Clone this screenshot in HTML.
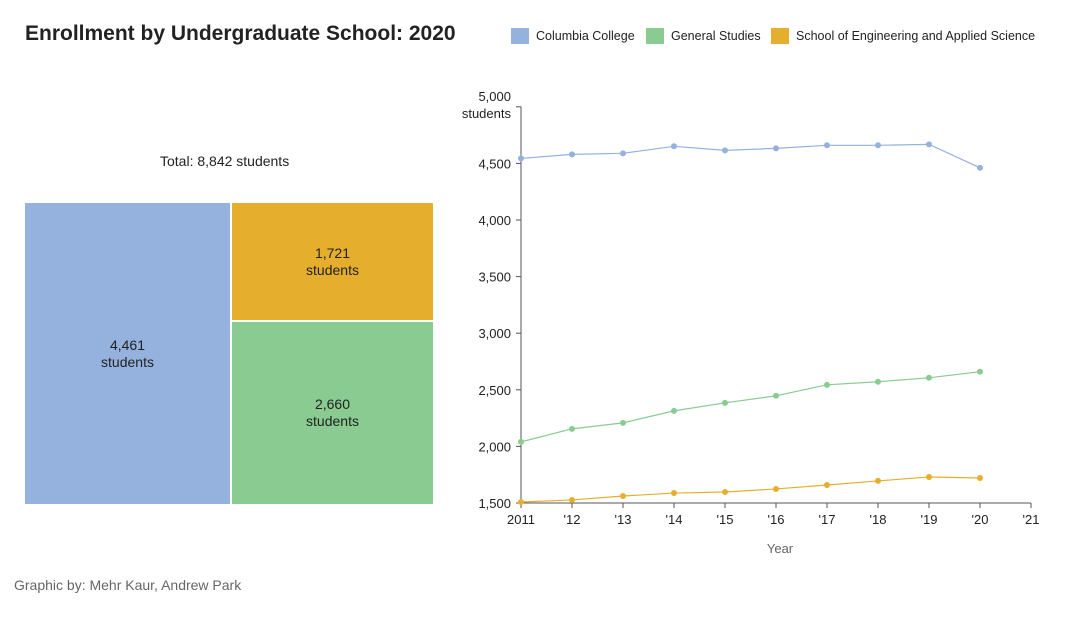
<!DOCTYPE html>
<html><head><meta charset="utf-8">
<style>
body{margin:0;width:1080px;height:630px;background:#fff;font-family:"Liberation Sans",sans-serif;color:#222;overflow:hidden;position:relative}
.title{position:absolute;left:25px;top:22px;font-size:21px;font-weight:bold}
.legend{position:absolute;top:28px;font-size:12.5px;display:flex;align-items:center}
.sw{width:18px;height:16px;display:inline-block;margin-right:7px}
.credit{position:absolute;left:14px;top:577px;font-size:14px;color:#666}
.cell{position:absolute;display:flex;align-items:center;justify-content:center;text-align:center;font-size:14px;line-height:17px;color:#222}
</style></head><body>
<div class="title">Enrollment by Undergraduate School: 2020</div>
<div class="legend" style="left:511px"><span class="sw" style="background:#95b1de"></span>Columbia College</div>
<div class="legend" style="left:646px"><span class="sw" style="background:#89cb91"></span>General Studies</div>
<div class="legend" style="left:771px"><span class="sw" style="background:#e5af2d"></span>School of Engineering and Applied Science</div>
<div style="position:absolute;left:160px;top:153px;font-size:14px">Total: 8,842 students</div>
<div class="cell" style="left:25px;top:203px;width:205px;height:301px;background:#95b1de">4,461<br>students</div>
<div class="cell" style="left:232px;top:203px;width:201px;height:117px;background:#e5af2d">1,721<br>students</div>
<div class="cell" style="left:232px;top:322px;width:201px;height:182px;background:#89cb91">2,660<br>students</div>
<div class="credit">Graphic by: Mehr Kaur, Andrew Park</div>
<svg id="chart" width="1080" height="630" style="position:absolute;left:0;top:0"></svg>
<script>
const years=[2011,2012,2013,2014,2015,2016,2017,2018,2019,2020];
const xTicks=[2011,2012,2013,2014,2015,2016,2017,2018,2019,2020,2021];
const xTickLabels=["2011","'12","'13","'14","'15","'16","'17","'18","'19","'20","'21"];
const yTicks=[1500,2000,2500,3000,3500,4000,4500,5000];
const ccVals=[4544,4580,4589,4651,4615,4633,4660,4660,4668,4461];
const gsVals=[2040,2155,2208,2314,2385,2447,2544,2571,2606,2660];
const seasVals=[1509,1527,1562,1588,1597,1624,1659,1695,1730,1721];
const svg=document.getElementById('chart');
const NS='http://www.w3.org/2000/svg';
const X=v=>521+(v-2011)*51;
const Y=v=>503-(v-1500)*0.1132;
function mk(t,a,p){const e=document.createElementNS(NS,t);for(const k in a)e.setAttribute(k,a[k]);(p||svg).appendChild(e);return e;}
let e=mk('line',{x1:521,x2:521,y1:Y(5000),y2:503,stroke:'#555'});

e=mk('line',{x1:521,x2:1031,y1:503,y2:503,stroke:'#555'});

yTicks.forEach(v=>{
 mk('line',{x1:516,x2:521,y1:Y(v),y2:Y(v),stroke:'#555'});
 const t=mk('text',{x:511,y:Y(v)+(v==5000?-6:5),'text-anchor':'end','font-size':13,fill:'#222'});
 t.textContent=v.toLocaleString('en-US');
 
});
e=mk('text',{x:511,y:Y(5000)+11,'text-anchor':'end','font-size':13,fill:'#222'});e.textContent='students';

xTicks.forEach((v,i)=>{
 mk('line',{x1:X(v),x2:X(v),y1:503,y2:508,stroke:'#555'});
 const t=mk('text',{x:X(v),y:524,'text-anchor':'middle','font-size':13,fill:'#222'});
 t.textContent=xTickLabels[i];
 
});
e=mk('text',{x:780,y:553,'text-anchor':'middle','font-size':13,fill:'#666'});e.textContent='Year';

[[ccVals,'#95b1de','columbia-college'],[gsVals,'#89cb91','general-studies'],[seasVals,'#e5af2d','seas']].forEach(([vals,c,n])=>{
 const l=mk('polyline',{points:vals.map((v,i)=>X(years[i])+','+Y(v)).join(' '),fill:'none',stroke:c,'stroke-width':1.2});
 
 vals.forEach((v,i)=>{const d=mk('circle',{cx:X(years[i]),cy:Y(v),r:3,fill:c});
  });
});
</script>
</body></html>
